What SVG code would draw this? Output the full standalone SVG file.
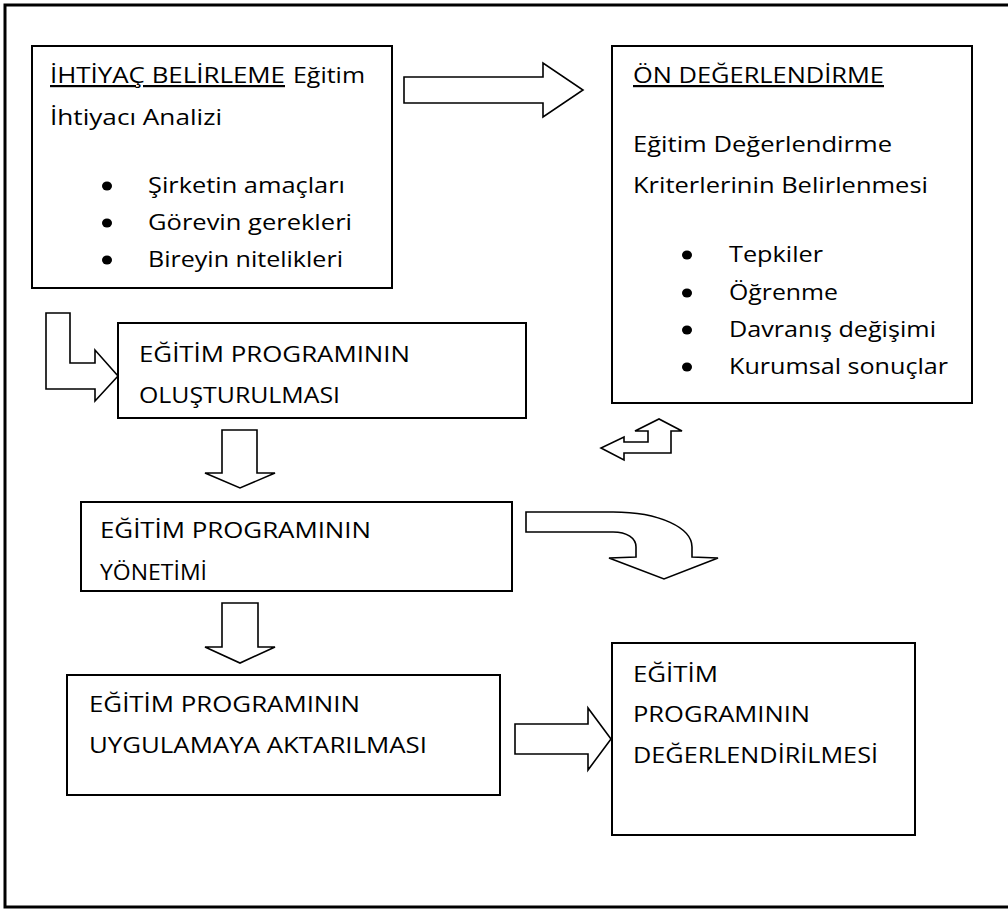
<svg xmlns="http://www.w3.org/2000/svg" width="1008" height="910" viewBox="0 0 1008 910">
<style>
.box{fill:#fff;stroke:#000;stroke-width:2}
.arr{fill:#fff;stroke:#000;stroke-width:1.6;stroke-linejoin:miter}
text{font-family:"Open Sans","Liberation Sans",sans-serif;font-size:22px;fill:#000}
.u{text-decoration:underline}
.dot{fill:#000}
</style>
<rect width="1008" height="910" fill="#fff"/>
<rect x="5" y="5" width="1012" height="902" fill="none" stroke="#000" stroke-width="3"/>

<g id="ihtiyac">
<rect class="box" x="32" y="46" width="360" height="242"/>
<text x="50" y="83" class="u" textLength="235" lengthAdjust="spacingAndGlyphs">İHTİYAÇ BELİRLEME</text>
<text x="293" y="83" textLength="72" lengthAdjust="spacingAndGlyphs">Eğitim</text>
<text x="50" y="125" textLength="172" lengthAdjust="spacingAndGlyphs">İhtiyacı Analizi</text>
<ellipse class="dot" cx="107" cy="186" rx="5" ry="4.5"/>
<ellipse class="dot" cx="107" cy="223" rx="5" ry="4.5"/>
<ellipse class="dot" cx="107" cy="260" rx="5" ry="4.5"/>
<text x="148" y="193" textLength="197" lengthAdjust="spacingAndGlyphs">Şirketin amaçları</text>
<text x="148" y="230" textLength="204" lengthAdjust="spacingAndGlyphs">Görevin gerekleri</text>
<text x="148" y="267" textLength="195" lengthAdjust="spacingAndGlyphs">Bireyin nitelikleri</text>
</g>

<g id="on-degerlendirme">
<rect class="box" x="612" y="46" width="360" height="357"/>
<text x="633" y="83" class="u" textLength="251" lengthAdjust="spacingAndGlyphs">ÖN DEĞERLENDİRME</text>
<text x="633" y="152" textLength="259" lengthAdjust="spacingAndGlyphs">Eğitim Değerlendirme</text>
<text x="633" y="193" textLength="295" lengthAdjust="spacingAndGlyphs">Kriterlerinin Belirlenmesi</text>
<ellipse class="dot" cx="687" cy="255" rx="5" ry="4.5"/>
<ellipse class="dot" cx="687" cy="293" rx="5" ry="4.5"/>
<ellipse class="dot" cx="687" cy="330" rx="5" ry="4.5"/>
<ellipse class="dot" cx="687" cy="367" rx="5" ry="4.5"/>
<text x="729" y="262" textLength="94" lengthAdjust="spacingAndGlyphs">Tepkiler</text>
<text x="729" y="300" textLength="109" lengthAdjust="spacingAndGlyphs">Öğrenme</text>
<text x="729" y="337" textLength="207" lengthAdjust="spacingAndGlyphs">Davranış değişimi</text>
<text x="729" y="374" textLength="219" lengthAdjust="spacingAndGlyphs">Kurumsal sonuçlar</text>
</g>

<g id="olusturulmasi">
<rect class="box" x="118" y="323" width="408" height="95"/>
<text x="139" y="362" textLength="271" lengthAdjust="spacingAndGlyphs">EĞİTİM PROGRAMININ</text>
<text x="139" y="403" textLength="201" lengthAdjust="spacingAndGlyphs">OLUŞTURULMASI</text>
</g>

<g id="yonetimi">
<rect class="box" x="81" y="502" width="431" height="89"/>
<text x="100" y="538" textLength="271" lengthAdjust="spacingAndGlyphs">EĞİTİM PROGRAMININ</text>
<text x="100" y="580" textLength="107" lengthAdjust="spacingAndGlyphs">YÖNETİMİ</text>
</g>

<g id="uygulama">
<rect class="box" x="67" y="675" width="433" height="120"/>
<text x="89" y="712" textLength="271" lengthAdjust="spacingAndGlyphs">EĞİTİM PROGRAMININ</text>
<text x="89" y="753" textLength="338" lengthAdjust="spacingAndGlyphs">UYGULAMAYA AKTARILMASI</text>
</g>

<g id="degerlendirilmesi">
<rect class="box" x="612" y="643" width="303" height="192"/>
<text x="633" y="682" textLength="85" lengthAdjust="spacingAndGlyphs">EĞİTİM</text>
<text x="633" y="722" textLength="177" lengthAdjust="spacingAndGlyphs">PROGRAMININ</text>
<text x="633" y="763" textLength="245" lengthAdjust="spacingAndGlyphs">DEĞERLENDİRİLMESİ</text>
</g>

<g id="connectors">
<polygon class="arr" points="404,77 543,77 543,63 583,90 543,117 543,103 404,103"/>
<polygon class="arr" points="46,313 70,313 70,363 95,363 95,350 118,376 95,401 95,389 46,389"/>
<polygon class="arr" points="222,430 257,430 257,473 275,473 240,488 205,473 222,473"/>
<polygon class="arr" points="222,603 258,603 258,647 275,647 240,663 205,647 222,647"/>
<polygon class="arr" points="635,431 659,419 682,431 671,431 671,453 624,453 624,460 601,448 624,437 624,442 648,442 648,431"/>
<path class="arr" d="M526,512 L613,512 C660,512 692,528 692,547 L692,557 L718,558 L664,579 L609,558 L636,557 L636,547 C636,538 627,532 613,532 L526,532 Z"/>
<polygon class="arr" points="515,724 588,724 588,708 611,739 588,770 588,754 515,754"/>
</g>
</svg>
